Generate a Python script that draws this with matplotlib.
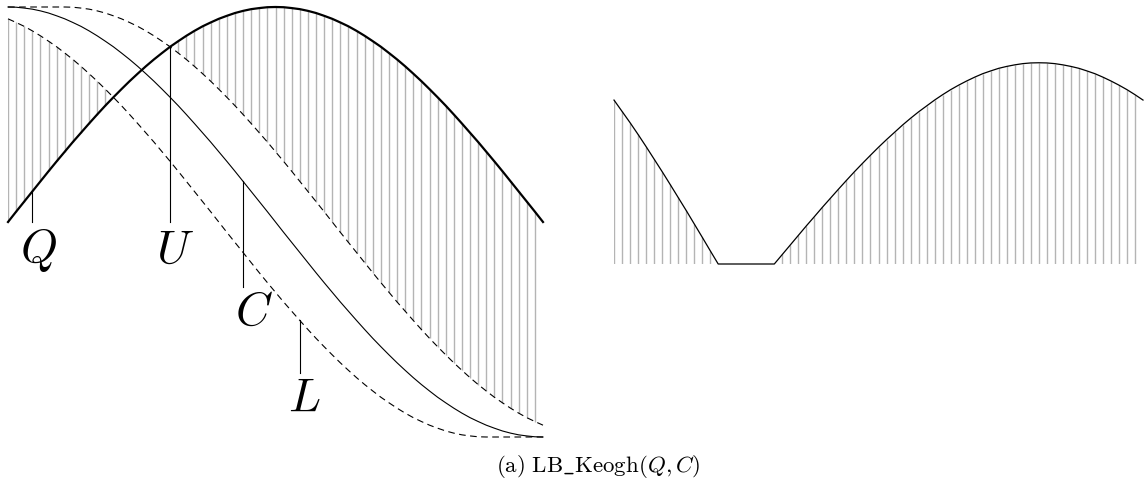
import matplotlib
matplotlib.use("Agg")
import matplotlib.pyplot as plt
import numpy as np

plt.rcParams['mathtext.fontset'] = 'cm'

# query series Q and candidate series C (67 samples)
q_values = [0.000, 0.048, 0.095, 0.142, 0.189, 0.236, 0.282, 0.327, 0.372, 0.415,
            0.458, 0.500, 0.541, 0.580, 0.618, 0.655, 0.690, 0.724, 0.756, 0.786,
            0.815, 0.841, 0.866, 0.889, 0.910, 0.928, 0.945, 0.959, 0.972, 0.982,
            0.990, 0.995, 0.999, 1.000, 0.999, 0.995, 0.990, 0.982, 0.972, 0.959,
            0.945, 0.928, 0.910, 0.889, 0.866, 0.841, 0.815, 0.786, 0.756, 0.724,
            0.690, 0.655, 0.618, 0.580, 0.541, 0.500, 0.458, 0.415, 0.372, 0.327,
            0.282, 0.236, 0.189, 0.142, 0.095, 0.048, 0.000]
c_values = [1.000, 0.999, 0.995, 0.990, 0.982, 0.972, 0.959, 0.945, 0.928, 0.910,
            0.889, 0.866, 0.841, 0.815, 0.786, 0.756, 0.724, 0.690, 0.655, 0.618,
            0.580, 0.541, 0.500, 0.458, 0.415, 0.372, 0.327, 0.282, 0.236, 0.189,
            0.142, 0.095, 0.048, 0.000, -0.048, -0.095, -0.142, -0.189, -0.236, -0.282,
            -0.327, -0.372, -0.415, -0.458, -0.500, -0.541, -0.580, -0.618, -0.655, -0.690,
            -0.724, -0.756, -0.786, -0.815, -0.841, -0.866, -0.889, -0.910, -0.928, -0.945,
            -0.959, -0.972, -0.982, -0.990, -0.995, -0.999, -1.000]
window = 7  # warping window reach, in samples

# label anchors: (name, sample index, label x, label y, line end y, series)
labels = [("Q", 3, 3.7, -0.13, 0.0, "q"),
          ("U", 20, 20.6, -0.13, 0.0, "u"),
          ("C", 29, 30.3, -0.42, -0.30, "c"),
          ("L", 36, 36.6, -0.82, -0.70, "l")]
caption = r"$\mathrm{(a)\ LB\_Keogh}(Q,C)$"

Q = np.array(q_values)
C = np.array(c_values)
n = len(Q)
idx = np.arange(n)

U = np.array([C[max(0, i - window):i + window + 1].max() for i in range(n)])
L = np.array([C[max(0, i - window):i + window + 1].min() for i in range(n)])

# end point of each hatch line on the envelope
env = np.where(Q > U, U, np.where(Q < L, L, Q))
diff = np.where(Q > U, Q - U, np.where(Q < L, L - Q, 0.0))

W, H = 1144, 484
fig = plt.figure(figsize=(W / 100, H / 100), dpi=100)

ax1 = fig.add_axes([8 / W, 47 / H, 535 / W, 430 / H])
ax1.set_xlim(0, n - 1)
ax1.set_ylim(-1, 1)
ax1.axis("off")

gray = "#b4b4b4"
ax1.vlines(idx[:-1], Q[:-1], env[:-1], color=gray, lw=1.0, zorder=1)
ax1.plot(idx, U, color="black", lw=0.8, ls=(0, (6, 4)), clip_on=False, zorder=2)
ax1.plot(idx, L, color="black", lw=0.8, ls=(0, (6, 4)), clip_on=False, zorder=2)
ax1.plot(idx, C, color="black", lw=0.8, clip_on=False, zorder=3)
ax1.plot(idx, Q, color="black", lw=1.6, clip_on=False, zorder=4)

series = {"q": Q, "u": U, "c": C, "l": L}
for name, i, lx, ly, yend, key in labels:
    ax1.plot([i, i], [series[key][i], yend], color="black", lw=0.8, clip_on=False)
    ax1.text(lx, ly, "$" + name + "$", fontsize=34, ha="center", va="center")

ax2 = fig.add_axes([614 / W, 220 / H, 529 / W, 208 / H])
ax2.set_xlim(0, n - 1)
ax2.set_ylim(0, 1.199)
ax2.axis("off")
ax2.vlines(idx[:-1], 0, diff[:-1], color=gray, lw=1.0, zorder=1)
ax2.plot(idx, diff, color="black", lw=0.9, clip_on=False, zorder=2)

fig.text(598 / W, 1 - 467 / H, caption, fontsize=16.5, ha="center", va="center")

fig.savefig("out.png", dpi=100)
